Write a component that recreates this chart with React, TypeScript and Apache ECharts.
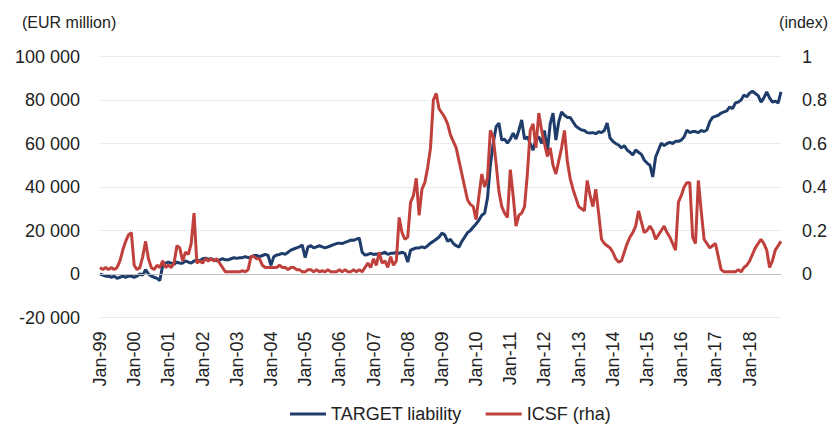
import React, { useEffect, useRef } from "react";
import * as echarts from "echarts";

// Month labels (Jan-99 ... Dec-18)
const MONTHS = ["Jan", "Feb", "Mar", "Apr", "May", "Jun", "Jul", "Aug", "Sep", "Oct", "Nov", "Dec"];
const YEARS = ["99", "00", "01", "02", "03", "04", "05", "06", "07", "08", "09", "10", "11", "12", "13", "14", "15", "16", "17", "18"];
const categories: string[] = [];
YEARS.forEach((y) => MONTHS.forEach((m) => categories.push(`${m}-${y}`)));

// TARGET liability, EUR thousand million (monthly)
const targetK: number[] = [
  // 1999
  0, -0.5, -1, -1, -1.5, -1, -2, -1.5, -1, -1.5, -1, -1,
  // 2000
  -1.5, -1, 0, -0.5, 2, 0, -1, -1.5, -2, -3, 4, 5,
  // 2001
  5.5, 5, 4.5, 5.5, 5, 5, 6, 5.5, 5, 6, 6.4, 6,
  // 2002
  7, 7.3, 6.8, 7, 6.5, 6, 6.5, 7, 6.5, 6.5, 7, 7.5,
  // 2003
  7.2, 7.5, 7.5, 8, 7.5, 7.8, 8.5, 8.5, 8, 8.5, 9, 8.5,
  // 2004
  4, 8, 8.7, 9, 9.5, 9, 10, 11, 11.5, 12, 12.5, 13.3,
  // 2005
  7.5, 12.5, 13, 12, 12.5, 13, 12.5, 12, 12.5, 13, 13.5, 14,
  // 2006
  14.2, 14, 14.5, 15, 15.6, 15.5, 16, 16.5, 10, 8.7, 9, 9.5,
  // 2007
  9, 9.2, 9, 9.5, 10, 9, 9.5, 9.5, 10, 9.5, 10, 9.5,
  // 2008
  5.5, 11, 11.5, 12, 12, 12.5, 12, 13, 14.2, 15, 16, 17,
  // 2009
  18.8, 18, 15, 16, 14, 13, 12.4, 15, 17, 19, 20, 21.6,
  // 2010
  23, 24.8, 27, 28, 35, 50, 60, 67.6, 69.4, 61.6, 62, 60.2,
  // 2011
  62, 64.8, 62, 66, 70.8, 62, 63, 60, 57, 62, 63, 60,
  // 2012
  66, 56, 69, 74, 61.6, 70, 74.5, 73, 72, 72, 70, 68,
  // 2013
  67, 66.2, 66, 65, 64.8, 65, 64.5, 65.4, 65, 66, 69.4, 62.5,
  // 2014
  61, 60, 59.3, 58, 59, 57, 56, 54.7, 57, 56, 55, 52.4,
  // 2015
  51, 50, 44.6, 53.8, 57, 60.2, 59, 60, 60.5, 60, 61, 61,
  // 2016
  61.6, 63, 66.2, 65, 65.5, 65.5, 65, 66, 65.5, 66.2, 70, 72,
  // 2017
  72.5, 73, 74, 74.5, 75, 76.8, 76, 78.6, 79, 80, 82.3, 81.5,
  // 2018
  83.2, 84, 83, 82, 79, 81, 83.7, 81, 79, 79.5, 78.6, 83.7,
];

// ICSF index (right-hand axis)
const icsf: number[] = [
  // 1999
  0.03, 0.02, 0.03, 0.02, 0.03, 0.02, 0.03, 0.06, 0.11, 0.15, 0.18, 0.19,
  // 2000
  0.04, 0.02, 0.03, 0.08, 0.15, 0.07, 0.03, 0.02, 0.04, 0.03, 0.06, 0.03,
  // 2001
  0.04, 0.03, 0.05, 0.13, 0.12, 0.06, 0.1, 0.09, 0.14, 0.28, 0.05, 0.06,
  // 2002
  0.05, 0.07, 0.06, 0.07, 0.06, 0.07, 0.05, 0.03, 0.01, 0.01, 0.01, 0.01,
  // 2003
  0.01, 0.01, 0.015, 0.01, 0.02, 0.08, 0.08, 0.07, 0.07, 0.04, 0.03, 0.03,
  // 2004
  0.03, 0.03, 0.03, 0.04, 0.03, 0.03, 0.02, 0.03, 0.03, 0.02, 0.02, 0.01,
  // 2005
  0.01, 0.02, 0.02, 0.01, 0.02, 0.01, 0.015, 0.01, 0.02, 0.01, 0.01, 0.01,
  // 2006
  0.02, 0.01, 0.02, 0.01, 0.01, 0.02, 0.01, 0.02, 0.01, 0.03, 0.05, 0.03,
  // 2007
  0.07, 0.04, 0.1, 0.05, 0.06, 0.03, 0.08, 0.04, 0.06, 0.26, 0.19, 0.16,
  // 2008
  0.17, 0.33, 0.36, 0.44, 0.27, 0.39, 0.42, 0.49, 0.58, 0.8, 0.83, 0.76,
  // 2009
  0.74, 0.72, 0.69, 0.64, 0.61, 0.58, 0.52, 0.46, 0.4, 0.34, 0.32, 0.31,
  // 2010
  0.25, 0.36, 0.46, 0.4, 0.44, 0.66, 0.63, 0.51, 0.38, 0.31, 0.28, 0.26,
  // 2011
  0.48, 0.36, 0.22, 0.27, 0.28, 0.31, 0.46, 0.66, 0.69, 0.58, 0.74, 0.66,
  // 2012
  0.6, 0.54, 0.58, 0.5, 0.46, 0.52, 0.58, 0.66, 0.52, 0.44, 0.39, 0.35,
  // 2013
  0.31, 0.3, 0.29, 0.43, 0.36, 0.31, 0.39, 0.28, 0.16, 0.14, 0.13, 0.12,
  // 2014
  0.1, 0.07, 0.055, 0.06, 0.1, 0.14, 0.17, 0.19, 0.22, 0.29, 0.24, 0.19,
  // 2015
  0.2, 0.22, 0.2, 0.16, 0.18, 0.2, 0.22, 0.19, 0.17, 0.14, 0.11, 0.33,
  // 2016
  0.36, 0.4, 0.42, 0.42, 0.17, 0.14, 0.43, 0.29, 0.16, 0.14, 0.12, 0.13,
  // 2017
  0.14, 0.08, 0.02, 0.01, 0.01, 0.01, 0.01, 0.01, 0.02, 0.01, 0.03, 0.04,
  // 2018
  0.06, 0.09, 0.12, 0.14, 0.16, 0.14, 0.11, 0.03, 0.06, 0.11, 0.13, 0.15,
];

const BLUE = "#1F3D6B";
const RED = "#C0403C";
const TEXT = "#222222";
const FONT = "Liberation Sans";

function fmtThousands(v: number): string {
  const s = Math.abs(v).toString().replace(/\B(?=(\d{3})+(?!\d))/g, " ");
  return (v < 0 ? "-" : "") + s;
}

export default function App() {
  const ref = useRef<HTMLDivElement>(null);

  useEffect(() => {
    if (!ref.current) return;
    const chart = echarts.init(ref.current, undefined, { renderer: "svg" });
    chart.setOption({
      animation: false,
      backgroundColor: "#ffffff",
      textStyle: { fontFamily: FONT, color: TEXT },
      grid: { left: 100, right: 45, top: 56.5, bottom: 107.5 },
      graphic: [
        {
          type: "text",
          left: 22,
          top: 14,
          style: { text: "(EUR million)", fontSize: 16, fontFamily: FONT, fill: TEXT },
        },
        {
          type: "text",
          right: 2,
          top: 14,
          style: { text: "(index)", fontSize: 16, fontFamily: FONT, fill: TEXT },
        },
      ],
      legend: {
        left: 285,
        top: 400,
        icon: "rect",
        itemWidth: 36,
        itemHeight: 3,
        itemGap: 24,
        textStyle: { fontSize: 18, fontFamily: FONT, color: TEXT },
        data: ["TARGET liability", "ICSF (rha)"],
      },
      xAxis: {
        type: "category",
        data: categories,
        boundaryGap: false,
        axisLine: { show: false },
        axisTick: { show: false },
        axisLabel: {
          interval: (i: number) => i % 12 === 0,
          rotate: 90,
          margin: 14,
          fontSize: 18,
          fontFamily: FONT,
          color: TEXT,
        },
        splitLine: { show: false },
      },
      yAxis: [
        {
          type: "value",
          min: -20000,
          max: 100000,
          interval: 20000,
          axisLine: { show: false },
          axisTick: { show: false },
          axisLabel: {
            margin: 20,
            fontSize: 18,
            fontFamily: FONT,
            color: TEXT,
            formatter: (v: number) => fmtThousands(v),
          },
          splitLine: { lineStyle: { color: "#D9D9D9", type: "dotted", width: 1 } },
        },
        {
          type: "value",
          min: -0.2,
          max: 1,
          interval: 0.2,
          axisLine: { show: false },
          axisTick: { show: false },
          axisLabel: {
            margin: 21,
            fontSize: 18,
            fontFamily: FONT,
            color: TEXT,
            formatter: (v: number) => {
              const r = Math.round(v * 10) / 10;
              return r < 0 ? "" : String(r);
            },
          },
          splitLine: { show: false },
        },
      ],
      series: [
        {
          name: "zero",
          type: "line",
          data: [],
          z: 1,
          silent: true,
          markLine: {
            silent: true,
            symbol: "none",
            label: { show: false },
            lineStyle: { color: "#BFBFBF", type: "solid", width: 1 },
            data: [{ yAxis: 0 }],
          },
        },
        {
          name: "TARGET liability",
          type: "line",
          data: targetK.map((v) => v * 1000),
          showSymbol: false,
          z: 3,
          lineStyle: { color: BLUE, width: 3 },
          itemStyle: { color: BLUE },
        },
        {
          name: "ICSF (rha)",
          type: "line",
          yAxisIndex: 1,
          data: icsf,
          showSymbol: false,
          z: 4,
          lineStyle: { color: RED, width: 3 },
          itemStyle: { color: RED },
        },
      ],
    });
    return () => chart.dispose();
  }, []);

  return (
    <div
      ref={ref}
      style={{ position: "absolute", left: 0, top: 0, width: 830, height: 425 }}
    />
  );
}
